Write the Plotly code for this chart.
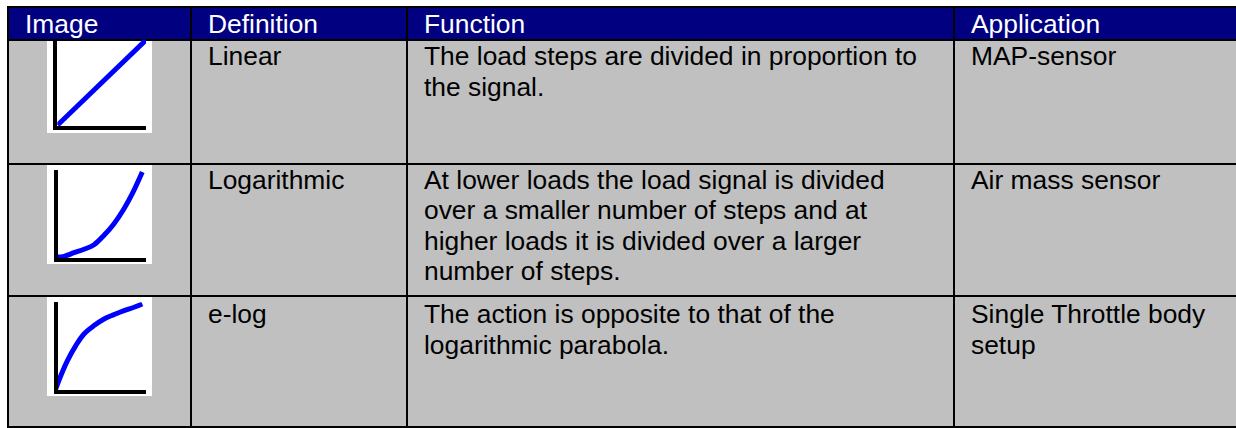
import plotly.graph_objects as go

# Table text
headers = ["Image", "Definition", "Function", "Application"]
definitions = ["Linear", "Logarithmic", "e-log"]
functions = [
    ["The load steps are divided in proportion to", "the signal."],
    ["At lower loads the load signal is divided",
     "over a smaller number of steps and at",
     "higher loads it is divided over a larger",
     "number of steps."],
    ["The action is opposite to that of the", "logarithmic parabola."],
]
applications = [["MAP-sensor"], ["Air mass sensor"], ["Single Throttle body", "setup"]]

# Thumbnail curves, 0-100 on both axes of each little picture
linear_x = [2.6, 100]
linear_y = [3.7, 100]
log_x = [0, 9.2, 20.3, 31.4, 42.6, 53.7, 64.8, 75.9, 85.1, 96.2]
log_y = [3.7, 4.4, 8.4, 12.2, 17.3, 27.8, 40.7, 57.3, 74.0, 98.1]
elog_x = [0, 5.6, 12.9, 22.3, 31.4, 42.6, 53.7, 64.8, 75.9, 87.0, 96.2]
elog_y = [3.7, 18.4, 35.0, 51.9, 64.8, 74.1, 81.5, 86.3, 90.8, 94.5, 98.1]
curves = [(linear_x, linear_y), (log_x, log_y), (elog_x, elog_y)]

# Layout (pixels)
W, H = 1236, 428
col_edges = [8, 191, 407, 954, 1240]
row_edges = [7, 40, 164, 296, 427]
header_baseline = 32.5
first_baselines = [65, 188.5, 323]
line_gap = 30.5
pad_x = 15
font_family = "Liberation Sans, Arial, sans-serif"
font_size = 26.4
navy = "#000080"
silver = "#c0c0c0"

# white picture boxes and the plot area inside each (left, top, right, bottom)
thumb_boxes = [(47, 41, 152, 133), (47, 165, 152, 264), (47, 297, 152, 396)]
thumb_areas = [(57.3, 40, 146, 126.3), (57.7, 170.3, 145.7, 258.3), (57.7, 302.3, 145.7, 390.3)]

fig = go.Figure()

shapes = []
shapes.append(dict(type="rect", x0=col_edges[0], x1=col_edges[-1], y0=row_edges[1], y1=row_edges[-1],
                   fillcolor=silver, line=dict(width=0), layer="below"))
shapes.append(dict(type="rect", x0=col_edges[0], x1=col_edges[-1], y0=row_edges[0], y1=row_edges[1],
                   fillcolor=navy, line=dict(width=0), layer="below"))
for (x0, y0, x1, y1) in thumb_boxes:
    shapes.append(dict(type="rect", x0=x0, x1=x1, y0=y0, y1=y1,
                       fillcolor="white", line=dict(width=0), layer="below"))
for y in row_edges:
    shapes.append(dict(type="line", x0=col_edges[0] - 1, x1=col_edges[-1], y0=y, y1=y,
                       line=dict(color="black", width=2), layer="below"))
for x in col_edges[:-1]:
    shapes.append(dict(type="line", x0=x, x1=x, y0=row_edges[0], y1=row_edges[-1],
                       line=dict(color="black", width=2), layer="below"))
for s in shapes:
    s["xref"] = "x"
    s["yref"] = "y"

annotations = []


def add_text(x, baseline, text, color):
    annotations.append(dict(x=x, y=baseline - 9, xref="x", yref="y", text=text,
                            showarrow=False, xanchor="left", yanchor="middle",
                            font=dict(family=font_family, size=font_size, color=color)))


for c, h in enumerate(headers):
    add_text(col_edges[c] + pad_x, header_baseline, h, "white")

for r in range(3):
    columns = [[definitions[r]], functions[r], applications[r]]
    for c, lines in enumerate(columns, start=1):
        for k, line in enumerate(lines):
            add_text(col_edges[c] + pad_x, first_baselines[r] + k * line_gap, line, "black")

layout_axes = {}
for i, ((cx, cy), (l, t, rr, b)) in enumerate(zip(curves, thumb_areas)):
    n = i + 2
    fig.add_trace(go.Scatter(x=cx, y=cy, xaxis="x%d" % n, yaxis="y%d" % n, mode="lines",
                             line=dict(color="#0000ff", width=5, shape="spline"),
                             hoverinfo="skip", showlegend=False))
    layout_axes["xaxis%d" % n] = dict(domain=[l / W, rr / W], range=[2.2, 100], anchor="y%d" % n,
                                      showline=True, linecolor="black", linewidth=4,
                                      showgrid=False, zeroline=False, showticklabels=False,
                                      ticks="", fixedrange=True)
    layout_axes["yaxis%d" % n] = dict(domain=[1 - b / H, 1 - t / H], range=[2.2, 100], anchor="x%d" % n,
                                      showline=True, linecolor="black", linewidth=4,
                                      showgrid=False, zeroline=False, showticklabels=False,
                                      ticks="", fixedrange=True)

fig.update_layout(
    width=W, height=H,
    margin=dict(l=0, r=0, t=0, b=0),
    paper_bgcolor="white",
    plot_bgcolor="rgba(0,0,0,0)",
    showlegend=False,
    xaxis=dict(range=[0, W], domain=[0, 1], visible=False, fixedrange=True),
    yaxis=dict(range=[H, 0], domain=[0, 1], visible=False, fixedrange=True),
    shapes=shapes,
    annotations=annotations,
    **layout_axes,
)

# the page's default body margin would push the table 8px off
fig.write_html("out.html", config={"displayModeBar": False},
               post_script="document.body.style.margin = '0';")
